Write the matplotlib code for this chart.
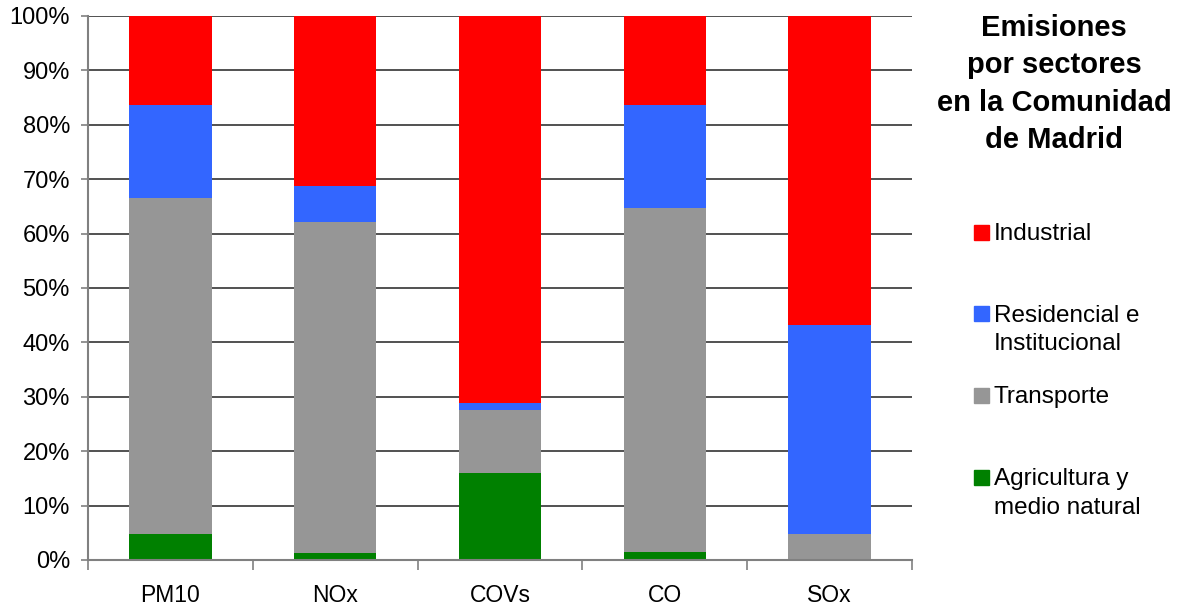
import numpy as np
import matplotlib.pyplot as plt
from matplotlib.patches import Rectangle

plt.rcParams['font.family'] = ['Liberation Sans', 'DejaVu Sans']

categories = ['PM10', 'NOx', 'COVs', 'CO', 'SOx']
sectors = ['Industrial', 'Residencial e\nInstitucional', 'Transporte', 'Agricultura y\nmedio natural']
colors = ['#ff0000', '#3366ff', '#969696', '#008000']

# shares in % per pollutant
agricultura = [4.8, 1.2, 16.0, 1.5, 0.2]
transporte = [61.8, 61.0, 11.6, 63.2, 4.6]
residencial = [17.1, 6.6, 1.3, 18.9, 38.4]
industrial = [16.3, 31.2, 71.1, 16.4, 56.8]

fig = plt.figure(figsize=(11.84, 6.07), dpi=100)
ax = fig.add_axes([88 / 1184, 1 - 560 / 607, (912 - 88) / 1184, (560 - 16) / 607])

x = np.arange(len(categories))
bottom = np.zeros(len(categories))
for vals, col in zip([agricultura, transporte, residencial, industrial], colors[::-1]):
    ax.bar(x, vals, width=0.5, bottom=bottom, color=col, zorder=3)
    bottom += np.array(vals)

ax.set_xlim(-0.5, len(categories) - 0.5)
ax.set_ylim(0, 100)
ax.set_yticks(np.arange(0, 101, 10))
ax.set_yticklabels([f'{v}%' for v in range(0, 101, 10)], fontsize=17)
ax.yaxis.grid(True, color='#333333', linewidth=1.2, zorder=0)
ax.set_axisbelow(True)

ax.set_xticks(x)
ax.set_xticklabels(categories, fontsize=16.5)
ax.tick_params(axis='x', length=0, pad=17)
ax.set_xticks(np.arange(-0.5, len(categories)), minor=True)
ax.tick_params(axis='x', which='minor', length=7, color='#808080', width=1.2)
ax.tick_params(axis='y', length=5, color='#808080', width=1.2, pad=8)

for s in ['top', 'right']:
    ax.spines[s].set_visible(False)
for s in ['left', 'bottom']:
    ax.spines[s].set_color('#808080')
    ax.spines[s].set_linewidth(1.5)
    ax.spines[s].set_zorder(4)

fig.text(1054 / 1184, 1 - 84 / 607, 'Emisiones\npor sectores\nen la Comunidad\nde Madrid',
         ha='center', va='center', fontsize=21, fontweight='bold', linespacing=1.42)

legend_y = [232, 313, 395, 477]
for lab, col, yy in zip(sectors, colors, legend_y):
    fig.patches.append(Rectangle((974 / 1184, 1 - (yy + 7.5) / 607), 15 / 1184, 15 / 607,
                                 transform=fig.transFigure, color=col))
    lines = lab.split('\n')
    for i, line in enumerate(lines):
        fig.text(994 / 1184, 1 - (yy + 8.5 + 28 * i) / 607, line, ha='left', va='baseline', fontsize=17.5)

fig.savefig('out.png', dpi=100)
